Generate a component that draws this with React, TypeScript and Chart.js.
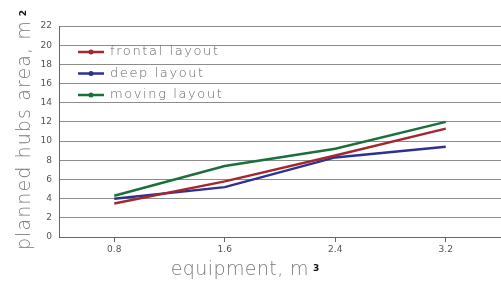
import React, { useEffect, useRef } from "react";
import { Chart, registerables } from "chart.js";

Chart.register(...registerables);

const categories = [0.8, 1.6, 2.4, 3.2];
const frontal = [3.5, 5.8, 8.5, 11.3];
const deep = [4.0, 5.2, 8.3, 9.4];
const moving = [4.3, 7.4, 9.2, 12.0];
const seriesNames = ["frontal layout", "deep layout", "moving layout"];
const seriesColors = ["#a3282e", "#2e3192", "#19703c"];
const yTicks = [0, 2, 4, 6, 8, 10, 12, 14, 16, 18, 20, 22];

const TITLE_FONT = '200 19px "DejaVu Sans"';

function drawTitleWithSup(ctx: CanvasRenderingContext2D, text: string, sup: string, cx: number, cy: number, spacing: number) {
  ctx.save();
  (ctx as any).letterSpacing = spacing + "px";
  ctx.font = TITLE_FONT;
  const w = ctx.measureText(text).width;
  ctx.font = 'bold 9px "DejaVu Sans"';
  (ctx as any).letterSpacing = "0px";
  const sw = ctx.measureText(sup).width;
  const total = w + 4 + sw;
  const x0 = cx - total / 2;
  ctx.font = TITLE_FONT;
  (ctx as any).letterSpacing = spacing + "px";
  ctx.fillStyle = "#7a7a7a";
  ctx.textBaseline = "alphabetic";
  ctx.textAlign = "left";
  ctx.fillText(text, x0, cy);
  ctx.font = 'bold 9px "DejaVu Sans"';
  (ctx as any).letterSpacing = "0px";
  ctx.fillStyle = "#111";
  ctx.fillText(sup, x0 + w + 4, cy - 4);
  ctx.restore();
}

const extrasPlugin = {
  id: "extras",
  afterDraw(chart: any) {
    const ctx: CanvasRenderingContext2D = chart.ctx;
    // legend inside plot
    ctx.save();
    chart.data.datasets.forEach((ds: any, i: number) => {
      const y = 52 + i * 21.5;
      const x = 78;
      ctx.strokeStyle = ds.borderColor;
      ctx.lineWidth = 2.5;
      ctx.beginPath();
      ctx.moveTo(x, y);
      ctx.lineTo(x + 26, y);
      ctx.stroke();
      ctx.fillStyle = ds.borderColor;
      ctx.beginPath();
      ctx.arc(x + 13, y, 2.5, 0, Math.PI * 2);
      ctx.fill();
      ctx.font = '200 13px "DejaVu Sans"';
      (ctx as any).letterSpacing = "1.6px";
      ctx.fillStyle = "#666";
      ctx.textBaseline = "middle";
      ctx.textAlign = "left";
      ctx.fillText(ds.label, x + 32, y);
    });
    ctx.restore();
    // x title
    drawTitleWithSup(ctx, "equipment, m", "3", 245, 275, 0.4);
    // y title rotated
    ctx.save();
    ctx.translate(30, 130);
    ctx.rotate(-Math.PI / 2);
    drawTitleWithSup(ctx, "planned hubs area, m", "2", 0, 0, 1.1);
    ctx.restore();
  },
};

export default function App() {
  const ref = useRef<HTMLCanvasElement | null>(null);
  useEffect(() => {
    if (!ref.current) return;
    const mk = (vals: number[]) => categories.map((c, i) => ({ x: c, y: vals[i] }));
    const chart = new Chart(ref.current, {
      type: "line",
      data: {
        datasets: [
          { label: seriesNames[0], data: mk(frontal), borderColor: seriesColors[0], backgroundColor: seriesColors[0], borderWidth: 2.5, pointRadius: 0, tension: 0 },
          { label: seriesNames[1], data: mk(deep), borderColor: seriesColors[1], backgroundColor: seriesColors[1], borderWidth: 2.5, pointRadius: 0, tension: 0 },
          { label: seriesNames[2], data: mk(moving), borderColor: seriesColors[2], backgroundColor: seriesColors[2], borderWidth: 2.5, pointRadius: 0, tension: 0 },
        ],
      },
      options: {
        animation: false,
        responsive: false,
        maintainAspectRatio: false,
        layout: { padding: { top: 26, left: 0, right: 0, bottom: 0 } },
        plugins: { legend: { display: false }, tooltip: { enabled: false } },
        scales: {
          x: {
            type: "linear",
            min: 0.4,
            max: 3.6,
            afterBuildTicks: (scale: any) => {
              scale.ticks = categories.map((v) => ({ value: v }));
            },
            afterFit: (scale: any) => {
              scale.height = 44;
            },
            ticks: {
              color: "#555",
              font: { family: "DejaVu Sans", size: 9 },
              padding: 2,
              autoSkip: false,
              maxRotation: 0,
              callback: (v: any) => String(v),
            },
            grid: { drawOnChartArea: false, drawTicks: true, tickLength: 5, color: "#666" },
            border: { color: "#666", width: 1 },
          },
          y: {
            min: 0,
            max: 22,
            afterBuildTicks: (scale: any) => {
              scale.ticks = yTicks.map((v) => ({ value: v }));
            },
            afterFit: (scale: any) => {
              scale.width = 59;
            },
            ticks: {
              color: "#555",
              font: { family: "DejaVu Sans", size: 9 },
              padding: 7,
            },
            grid: { drawTicks: false, color: "#8c8c8c", lineWidth: 1 },
            border: { color: "#666", width: 1 },
          },
        },
      },
      plugins: [extrasPlugin],
    } as any);
    return () => chart.destroy();
  }, []);
  return (
    <div style={{ position: "fixed", left: 0, top: 0, width: 501, height: 281, background: "#fff" }}>
      <canvas ref={ref} width={501} height={281} style={{ width: 501, height: 281, display: "block" }} />
    </div>
  );
}
